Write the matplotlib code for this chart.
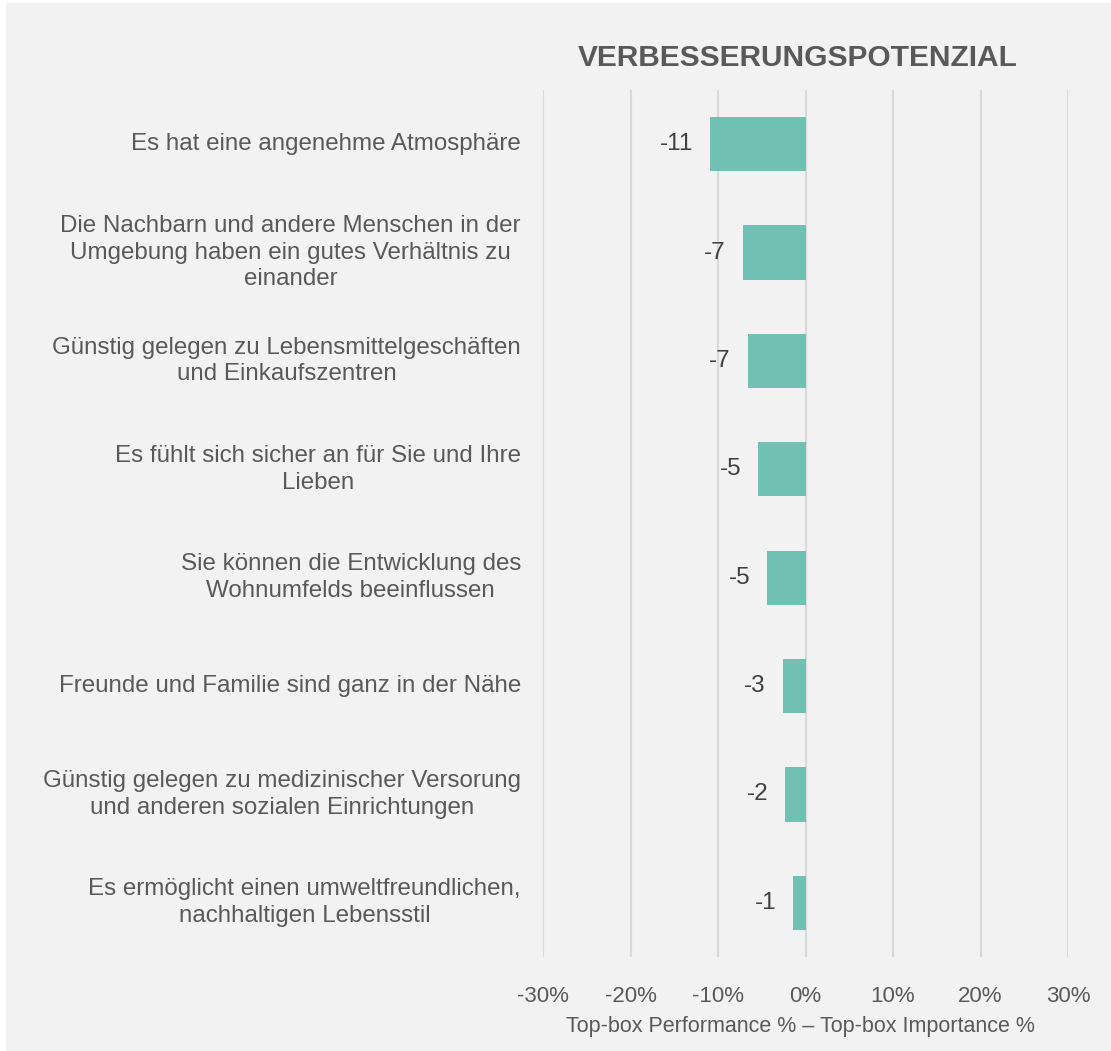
import matplotlib.pyplot as plt
from matplotlib.patches import Rectangle
from matplotlib.ticker import FuncFormatter

plt.rcParams['font.family'] = ['Liberation Sans', 'DejaVu Sans']

categories = [
    'Es hat eine angenehme Atmosphäre',
    'Die Nachbarn und andere Menschen in der\nUmgebung haben ein gutes Verhältnis zu\neinander',
    'Günstig gelegen zu Lebensmittelgeschäften\nund Einkaufszentren',
    'Es fühlt sich sicher an für Sie und Ihre\nLieben',
    'Sie können die Entwicklung des\nWohnumfelds beeinflussen',
    'Freunde und Familie sind ganz in der Nähe',
    'Günstig gelegen zu medizinischer Versorung\nund anderen sozialen Einrichtungen',
    'Es ermöglicht einen umweltfreundlichen,\nnachhaltigen Lebensstil',
]
values = [-10.9, -7.2, -6.6, -5.4, -4.4, -2.6, -2.3, -1.4]
value_labels = ['-11', '-7', '-7', '-5', '-5', '-3', '-2', '-1']
x_ticks = [-30, -20, -10, 0, 10, 20, 30]

bg = '#f2f2f2'
text_col = '#595959'

fig = plt.figure(figsize=(11.11, 10.51), dpi=100, facecolor='white')
fig.patches.append(Rectangle((6 / 1111, 0), 1 - 6 / 1111, 1 - 3 / 1051,
                             transform=fig.transFigure, facecolor=bg,
                             edgecolor='none', zorder=-10))

ax = fig.add_axes([543 / 1111, 94 / 1051, (1068 - 543) / 1111, (961 - 94) / 1051])
ax.set_facecolor(bg)

y = list(range(len(categories)))
ax.barh(y, values, height=0.5, color='#70c1b3', zorder=3)

for yi, v, lab in zip(y, values, value_labels):
    ax.annotate(lab, (v, yi), xytext=(-17, 0), textcoords='offset pixels',
                ha='right', va='center', fontsize=17.5, color='#404040')

ax.set_xlim(-30, 30)
ax.set_ylim(len(categories) - 0.5, -0.5)
ax.set_xticks(x_ticks)
ax.xaxis.set_major_formatter(FuncFormatter(lambda v, p: f'{v:.0f}%'))
ax.grid(axis='x', color='#d9d9d9', linewidth=1.5, zorder=0)
ax.set_yticks([])
for s in ax.spines.values():
    s.set_visible(False)
ax.tick_params(axis='x', length=0, pad=21, labelsize=16, labelcolor=text_col)

for yi, cat in zip(y, categories):
    ax.annotate(cat, (0, yi), xycoords=('axes fraction', 'data'),
                xytext=(-22, 0), textcoords='offset pixels',
                ha='right', va='center', multialignment='center',
                fontsize=17.4, color=text_col, linespacing=1.28)

ax.set_xlabel('Top-box Performance % – Top-box Importance %', fontsize=15.5,
              color=text_col, labelpad=9)
ax.xaxis.set_label_coords(0.49, -0.068)

fig.text(798 / 1111, 1 - 58 / 1051, 'VERBESSERUNGSPOTENZIAL', ha='center',
         va='center', fontsize=21.5, fontweight='bold', color=text_col)

fig.savefig('out.png', dpi=100, facecolor='white')
